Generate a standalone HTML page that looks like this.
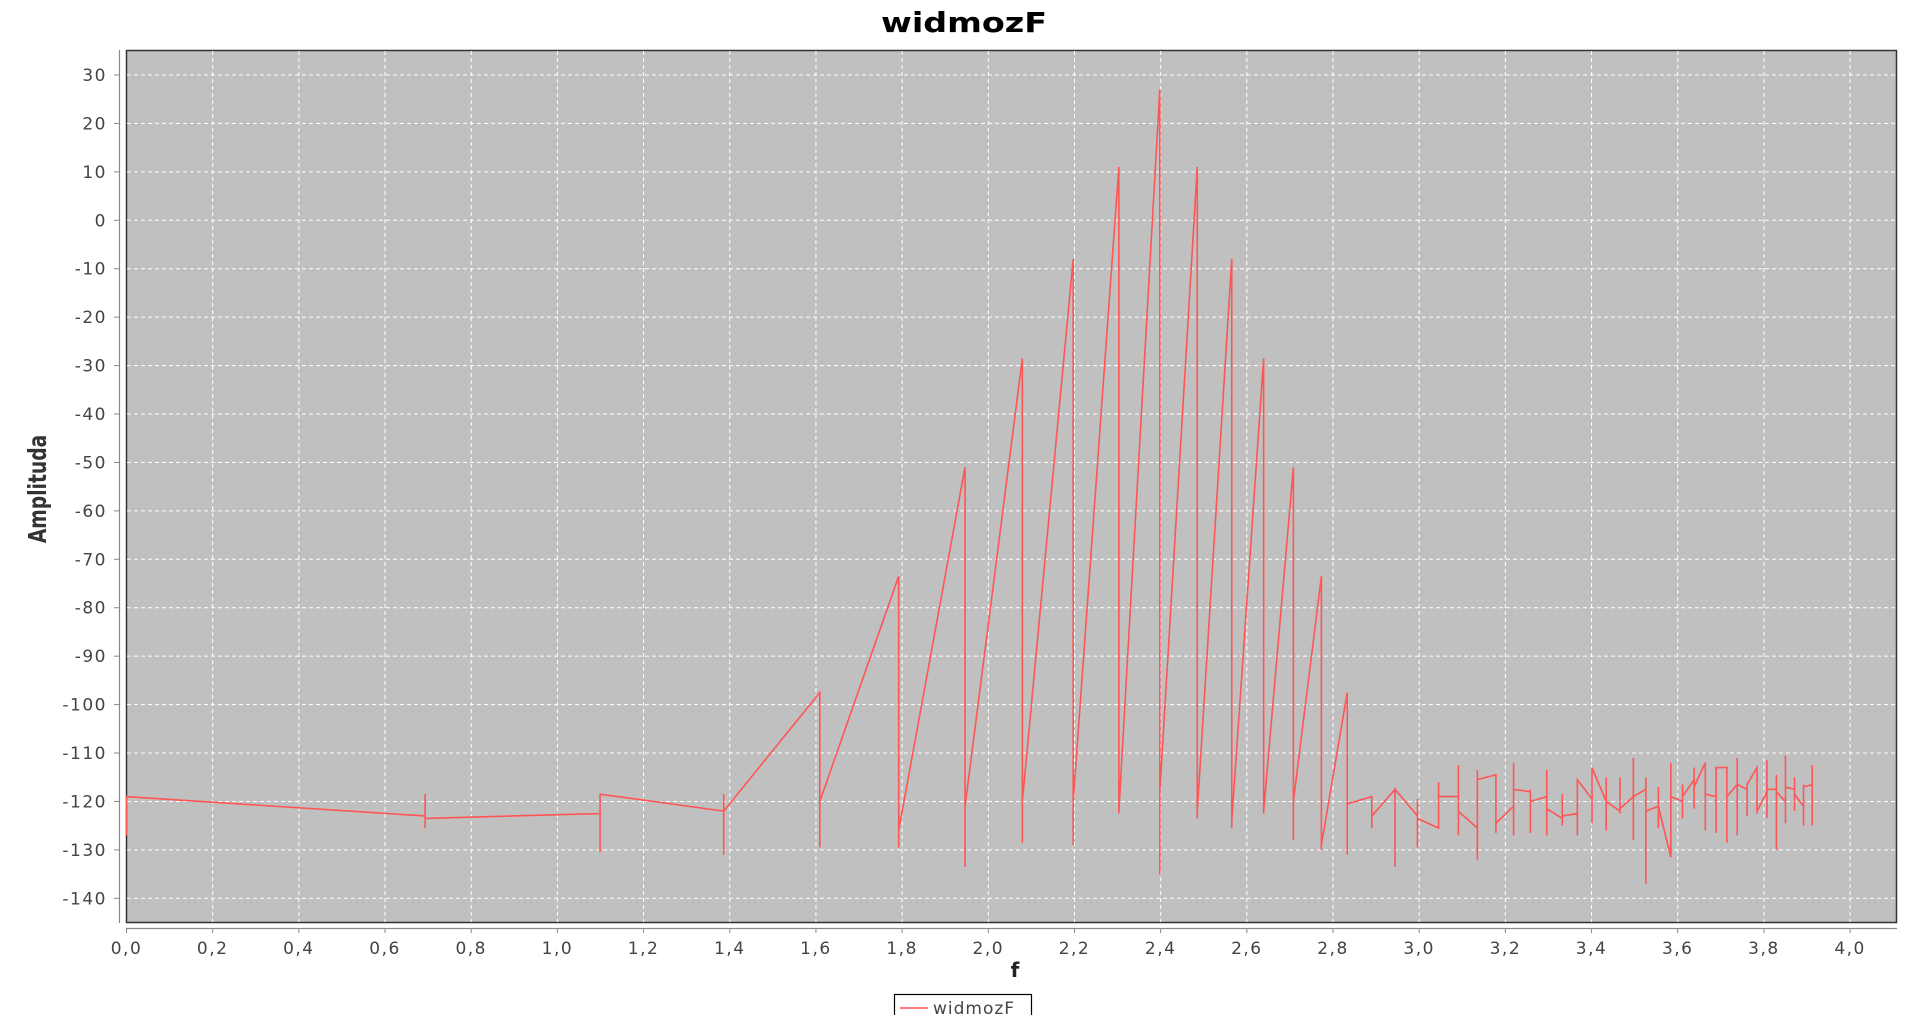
<!DOCTYPE html>
<html><head><meta charset="utf-8"><style>
html,body{margin:0;padding:0;background:#fff;}
svg{display:block;font-family:"DejaVu Sans","Liberation Sans",sans-serif;}
</style></head><body>
<svg id="chart" width="1907" height="1015" viewBox="0 0 1907 1015" xmlns="http://www.w3.org/2000/svg">
<text x="964" y="32" text-anchor="middle" font-size="28" font-weight="bold" fill="#000" textLength="166" lengthAdjust="spacingAndGlyphs">widmozF</text>
<rect x="126.5" y="50.5" width="1770" height="872" fill="#c0c0c0" stroke="#333" stroke-width="1.5"/>
<g id="grid"></g>
<g id="axes"></g>
<g id="series"></g>
<text x="1015" y="977" text-anchor="middle" font-size="20" font-weight="bold" fill="#222">f</text>
<text transform="translate(46,489) rotate(-90) scale(0.85,1.15)" text-anchor="middle" font-size="22" font-weight="bold" fill="#333">Amplituda</text>
<g>
<rect x="894.5" y="994.5" width="137" height="24" fill="#fff" stroke="#000" stroke-width="1.2"/>
<line x1="900" y1="1008" x2="928" y2="1008" stroke="#ff5555" stroke-width="1.5"/>
<text x="933" y="1014" font-size="17" fill="#444" letter-spacing="1">widmozF</text>
</g>
</svg>
<script>
const freqs=[0,0.693,1.099,1.386,1.609,1.792,1.946,2.079,2.197,2.303,2.398,2.485,2.565,2.639,2.708,2.773,2.833,2.890,2.944,2.996,3.045,3.091,3.135,3.178,3.219,3.258,3.296,3.332,3.367,3.401,3.434,3.466,3.497,3.526,3.555,3.584,3.611,3.638,3.664,3.689,3.714,3.738,3.761,3.784,3.807,3.829,3.850,3.871,3.892,3.912];
const hiVals=[-119,-118.5,-118.5,-118.5,-97.5,-73.5,-51,-28.5,-8,11,27,11,-8,-28.5,-51,-73.5,-97.5,-119,-117.5,-119.5,-116,-112.5,-113.5,-114.5,-112,-117.5,-113.5,-118.5,-115.5,-113,-115,-115,-111,-115,-117,-112,-116.5,-113,-112,-113,-113,-111,-116.5,-113,-111.5,-114.5,-110.5,-115,-116.5,-112.5];
const loVals=[-127,-125.5,-130.5,-131,-129.5,-129.5,-133.5,-128.5,-129,-122.5,-135,-123.5,-125.5,-122.5,-128,-130,-131,-125.5,-133.5,-129.5,-125.5,-127,-132,-126.5,-127,-126.5,-127,-125,-127,-124.5,-126,-122.5,-128,-137,-125.5,-131.5,-123.5,-121.5,-126,-126.5,-128.5,-127,-123,-122.5,-123.5,-130,-124.5,-122,-125,-125];
const arriveVals=[-127,-123,-122.5,-122,-97.5,-73.5,-51,-28.5,-8,11,27,11,-8,-28.5,-51,-73.5,-97.5,-119,-117.5,-123,-125.5,-119,-125.5,-114.5,-121,-118,-119,-123.5,-122.5,-119.5,-120,-122,-119,-117.5,-121,-131.5,-120,-115.5,-112,-119,-113,-116.5,-117.5,-113,-118,-117.5,-120,-117.5,-121,-116.5];
const leaveVals=[-119,-123.5,-118.5,-122,-120,-126,-121,-120,-120,-122,-118,-122,-124,-122,-120,-129,-120.5,-123,-117.5,-123.5,-119,-122,-115.5,-124.5,-117.5,-120,-121.5,-123,-115.5,-113,-120,-121.5,-119,-122,-121,-119,-119,-117,-118.5,-113,-119,-116.5,-116.5,-122,-117.5,-118,-117,-118.5,-117,-116.5];
const xTicks=[0,0.2,0.4,0.6,0.8,1.0,1.2,1.4,1.6,1.8,2.0,2.2,2.4,2.6,2.8,3.0,3.2,3.4,3.6,3.8,4.0];
const yTicks=[30,20,10,0,-10,-20,-30,-40,-50,-60,-70,-80,-90,-100,-110,-120,-130,-140];

const NS='http://www.w3.org/2000/svg';
function X(f){return 126.5+f*430.9;}
function Y(v){return 75+(30-v)*4.843;}
function mk(tag,attrs,parent){const e=document.createElementNS(NS,tag);for(const k in attrs)e.setAttribute(k,attrs[k]);parent.appendChild(e);return e;}
const grid=document.getElementById('grid'),axes=document.getElementById('axes'),ser=document.getElementById('series');
xTicks.forEach(t=>{
  const x=X(t);
  if(t>0){const g=mk('line',{x1:x,y1:51,x2:x,y2:922,stroke:'#fff','stroke-width':1,'stroke-dasharray':'4,3'},grid);
  
  }
  const tk=mk('line',{x1:x,y1:928,x2:x,y2:933,stroke:'#888'},axes);
  
  
  const lb=mk('text',{x:x,y:954,'text-anchor':'middle','font-size':17,fill:'#444','letter-spacing':1.5},axes);
  lb.textContent=t.toFixed(1).replace('.',',');
  
  
});
yTicks.forEach(t=>{
  const y=Y(t);
  const g=mk('line',{x1:127,y1:y,x2:1896,y2:y,stroke:'#fff','stroke-width':1,'stroke-dasharray':'4,3'},grid);
  
  
  const tk=mk('line',{x1:114,y1:y,x2:119,y2:y,stroke:'#888'},axes);
  
  
  const lb=mk('text',{x:107,y:y+6,'text-anchor':'end','font-size':17,fill:'#444','letter-spacing':1.5},axes);
  lb.textContent=t<0?'-'+(-t):String(t);
  
  
});
const ya=mk('line',{x1:119.5,y1:50,x2:119.5,y2:923,stroke:'#888','stroke-width':1.2},axes);


const xa=mk('line',{x1:126,y1:928.5,x2:1897,y2:928.5,stroke:'#888','stroke-width':1.2},axes);



let d='';
for(let i=0;i<freqs.length;i++){
  const x=X(freqs[i]);
  d+=(i===0?'M':'L')+x+','+Y(arriveVals[i]);
  d+='L'+x+','+Y(hiVals[i])+'L'+x+','+Y(loVals[i])+'L'+x+','+Y(leaveVals[i]);
}
const p=mk('path',{d:d,fill:'none',stroke:'#ff5555','stroke-width':1.6,'stroke-linejoin':'miter'},ser);


</script>
</body></html>
